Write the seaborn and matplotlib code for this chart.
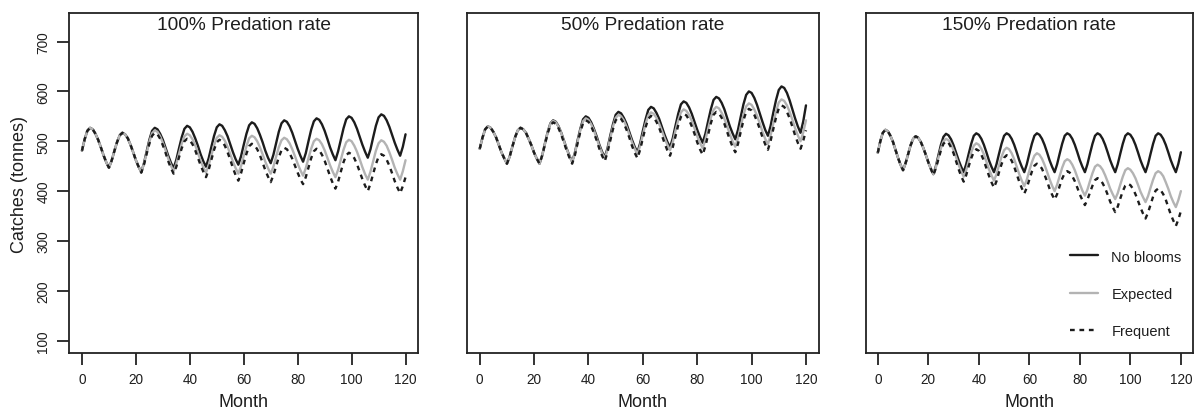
import pandas as pd
import matplotlib
matplotlib.use("Agg")
import matplotlib.pyplot as plt
import seaborn as sns

# Meses simulados (0..120) y escenarios
MONTHS = list(range(121))
SCENARIOS = ["No blooms", "Expected", "Frequent"]
PANEL_TITLES = ["100% Predation rate", "50% Predation rate", "150% Predation rate"]

# 100% predation rate
PRED100_NO_BLOOMS = [
    481, 504, 521, 527, 524, 515, 503, 488, 472, 458,
    447, 461, 480, 498, 512, 517, 514, 506, 493, 478,
    462, 449, 438, 456, 480, 503, 521, 527, 524, 515,
    503, 487, 471, 457, 446, 463, 486, 508, 525, 531,
    528, 519, 506, 491, 474, 460, 449, 466, 489, 511,
    528, 534, 531, 522, 510, 494, 478, 464, 453, 470,
    493, 515, 532, 538, 535, 526, 513, 498, 481, 467,
    456, 473, 496, 519, 536, 542, 539, 530, 517, 501,
    485, 471, 459, 476, 500, 523, 540, 546, 543, 534,
    521, 505, 488, 474, 462, 480, 503, 526, 544, 550,
    547, 538, 525, 509, 493, 479, 467, 484, 508, 531,
    548, 554, 551, 542, 529, 513, 497, 483, 471, 489,
    514,
]
PRED100_EXPECTED = [
    481, 504, 521, 527, 524, 515, 503, 488, 472, 458,
    447, 461, 480, 498, 512, 517, 514, 506, 493, 478,
    462, 449, 438, 455, 477, 499, 516, 522, 519, 510,
    497, 482, 465, 451, 440, 455, 475, 495, 510, 515,
    512, 504, 492, 477, 461, 448, 437, 452, 472, 492,
    507, 512, 509, 501, 489, 474, 459, 446, 435, 450,
    471, 490, 506, 511, 508, 500, 488, 474, 459, 446,
    435, 449, 469, 488, 502, 507, 504, 496, 484, 470,
    455, 442, 431, 446, 466, 485, 500, 505, 502, 494,
    482, 467, 452, 439, 428, 443, 463, 483, 498, 503,
    500, 491, 479, 464, 448, 434, 423, 439, 460, 481,
    496, 502, 499, 491, 478, 463, 447, 434, 423, 440,
    462,
]
PRED100_FREQUENT = [
    481, 504, 521, 527, 524, 515, 503, 488, 472, 458,
    447, 461, 480, 498, 512, 517, 514, 506, 493, 478,
    462, 449, 437, 453, 475, 495, 511, 517, 514, 505,
    492, 477, 460, 446, 435, 449, 468, 486, 500, 505,
    502, 494, 482, 467, 452, 439, 428, 443, 463, 483,
    498, 503, 500, 491, 478, 463, 446, 432, 421, 436,
    456, 475, 490, 495, 492, 484, 472, 457, 442, 429,
    418, 432, 450, 468, 482, 487, 484, 476, 465, 451,
    437, 424, 414, 428, 447, 466, 480, 485, 482, 473,
    461, 446, 430, 416, 405, 419, 439, 458, 472, 477,
    474, 466, 454, 439, 424, 411, 400, 415, 435, 454,
    469, 474, 471, 463, 451, 436, 420, 407, 396, 410,
    428,
]

# 50% predation rate
PRED50_NO_BLOOMS = [
    485, 507, 524, 530, 527, 519, 508, 493, 478, 466,
    455, 469, 489, 508, 522, 527, 524, 517, 505, 492,
    477, 465, 455, 472, 496, 519, 536, 542, 539, 530,
    517, 501, 485, 471, 459, 477, 502, 525, 544, 550,
    547, 538, 525, 510, 493, 479, 468, 486, 511, 534,
    553, 559, 556, 547, 535, 519, 503, 489, 478, 496,
    521, 544, 563, 569, 566, 557, 545, 529, 513, 499,
    488, 506, 531, 555, 574, 580, 577, 568, 555, 539,
    523, 509, 497, 515, 540, 564, 583, 589, 586, 577,
    564, 547, 530, 516, 504, 523, 549, 574, 593, 600,
    597, 587, 573, 556, 539, 523, 511, 531, 558, 583,
    603, 610, 607, 597, 582, 564, 546, 530, 517, 540,
    572,
]
PRED50_EXPECTED = [
    485, 507, 524, 530, 527, 519, 508, 493, 478, 466,
    455, 469, 489, 508, 522, 527, 524, 517, 505, 492,
    477, 465, 455, 472, 495, 518, 535, 541, 538, 529,
    516, 500, 484, 470, 458, 476, 499, 522, 540, 546,
    543, 534, 522, 506, 490, 476, 465, 483, 506, 529,
    547, 553, 550, 542, 529, 514, 498, 485, 474, 491,
    513, 535, 552, 558, 555, 547, 535, 521, 506, 493,
    482, 498, 521, 542, 558, 564, 561, 553, 541, 526,
    510, 497, 486, 503, 525, 547, 563, 569, 566, 557,
    545, 530, 514, 500, 489, 506, 530, 553, 570, 576,
    573, 564, 551, 536, 519, 505, 494, 512, 536, 560,
    578, 584, 581, 572, 559, 543, 526, 512, 500, 518,
    542,
]
PRED50_FREQUENT = [
    485, 507, 524, 530, 527, 519, 508, 493, 478, 466,
    455, 469, 489, 508, 522, 527, 524, 517, 505, 492,
    477, 465, 455, 472, 494, 516, 532, 538, 535, 526,
    513, 497, 481, 467, 455, 472, 496, 519, 536, 542,
    539, 530, 517, 502, 485, 471, 460, 478, 501, 524,
    542, 548, 545, 536, 523, 508, 491, 477, 466, 483,
    506, 528, 545, 551, 548, 539, 527, 512, 496, 482,
    471, 488, 510, 532, 549, 555, 552, 543, 530, 515,
    498, 484, 473, 490, 513, 536, 553, 559, 556, 547,
    535, 519, 503, 489, 478, 495, 519, 542, 559, 565,
    562, 553, 540, 525, 508, 494, 483, 501, 525, 548,
    566, 572, 569, 559, 546, 529, 512, 497, 485, 501,
    522,
]

# 150% predation rate
PRED150_NO_BLOOMS = [
    477, 500, 517, 523, 520, 511, 499, 483, 467, 453,
    442, 456, 474, 492, 505, 510, 507, 499, 487, 473,
    458, 445, 434, 450, 472, 493, 509, 515, 512, 504,
    492, 477, 462, 449, 438, 454, 475, 495, 511, 516,
    513, 505, 493, 478, 462, 449, 438, 454, 475, 495,
    511, 516, 513, 505, 493, 478, 462, 449, 438, 454,
    475, 495, 511, 516, 513, 505, 493, 478, 462, 449,
    438, 454, 475, 495, 511, 516, 513, 505, 493, 478,
    462, 449, 438, 454, 475, 495, 511, 516, 513, 505,
    493, 478, 462, 449, 438, 454, 475, 495, 511, 516,
    513, 505, 493, 478, 462, 449, 438, 454, 475, 495,
    511, 516, 513, 505, 493, 478, 462, 449, 438, 455,
    478,
]
PRED150_EXPECTED = [
    477, 500, 517, 523, 520, 511, 499, 483, 467, 453,
    442, 456, 474, 492, 505, 510, 507, 499, 487, 473,
    458, 445, 434, 448, 467, 486, 500, 505, 502, 494,
    482, 468, 453, 440, 429, 442, 460, 478, 491, 496,
    493, 485, 474, 459, 444, 432, 421, 434, 452, 469,
    482, 487, 484, 476, 464, 449, 434, 421, 410, 423,
    441, 458, 471, 476, 473, 465, 453, 439, 424, 411,
    400, 413, 430, 447, 460, 464, 461, 453, 442, 428,
    414, 401, 391, 403, 420, 436, 449, 453, 450, 443,
    432, 419, 405, 394, 384, 396, 413, 429, 442, 446,
    443, 436, 426, 413, 399, 388, 378, 390, 407, 423,
    436, 440, 437, 430, 418, 405, 390, 378, 368, 382,
    400,
]
PRED150_FREQUENT = [
    477, 500, 517, 523, 520, 511, 499, 483, 467, 453,
    442, 456, 474, 492, 505, 510, 507, 499, 487, 473,
    458, 445, 432, 446, 464, 482, 495, 500, 497, 488,
    476, 460, 444, 430, 419, 432, 450, 466, 479, 484,
    481, 473, 461, 446, 431, 418, 407, 420, 438, 454,
    467, 472, 469, 461, 449, 434, 419, 406, 395, 407,
    423, 439, 451, 455, 452, 445, 433, 420, 405, 393,
    383, 394, 410, 425, 436, 440, 437, 430, 420, 407,
    393, 382, 372, 383, 397, 411, 422, 426, 423, 416,
    406, 393, 379, 368, 358, 369, 385, 400, 411, 415,
    412, 405, 394, 381, 367, 355, 345, 357, 373, 389,
    401, 405, 402, 394, 383, 368, 353, 341, 330, 343,
    360,
]

PANEL_SERIES = [
    [PRED100_NO_BLOOMS, PRED100_EXPECTED, PRED100_FREQUENT],
    [PRED50_NO_BLOOMS, PRED50_EXPECTED, PRED50_FREQUENT],
    [PRED150_NO_BLOOMS, PRED150_EXPECTED, PRED150_FREQUENT],
]

# Estilo
PALETTE = {"No blooms": "#1c1c1c", "Expected": "#b3b3b3", "Frequent": "#1c1c1c"}
DASHES = {"No blooms": "", "Expected": "", "Frequent": (2, 2)}
TEXT_COLOR = "#1e1e1e"

sns.set_style("ticks")
plt.rcParams["font.family"] = ["Liberation Sans", "DejaVu Sans"]
plt.rcParams["text.color"] = TEXT_COLOR
plt.rcParams["axes.labelcolor"] = TEXT_COLOR
plt.rcParams["xtick.color"] = TEXT_COLOR
plt.rcParams["ytick.color"] = TEXT_COLOR

fig = plt.figure(figsize=(11.96, 4.14), dpi=100)
posiciones = [
    [0.0577, 0.1442, 0.2922, 0.822],
    [0.3902, 0.1442, 0.2946, 0.822],
    [0.7238, 0.1442, 0.2737, 0.822],
]

for i, (titulo, series) in enumerate(zip(PANEL_TITLES, PANEL_SERIES)):
    ax = fig.add_axes(posiciones[i])
    df = pd.concat(
        [pd.DataFrame({"Month": MONTHS, "Catches": vals, "Scenario": esc})
         for esc, vals in zip(SCENARIOS, series)],
        ignore_index=True,
    )
    sns.lineplot(
        data=df, x="Month", y="Catches", hue="Scenario", style="Scenario",
        hue_order=SCENARIOS, style_order=SCENARIOS,
        palette=PALETTE, dashes=DASHES, linewidth=1.7,
        legend=(i == 2), ax=ax,
    )

    ax.set_xlim(-4.8, 124.8)
    ax.set_ylim(74.7, 757.3)
    ax.set_xticks(range(0, 121, 20))
    ax.set_xlabel("Month", fontsize=13, labelpad=5)
    for sp in ax.spines.values():
        sp.set_visible(True)
        sp.set_linewidth(1.3)
        sp.set_color("#222222")
    ax.tick_params(axis="both", direction="out", length=8.5, width=1.3,
                   labelsize=9.8, pad=5, color="#222222")

    if i == 0:
        ax.set_yticks(range(100, 701, 100))
        plt.setp(ax.get_yticklabels(), rotation=90, va="center", ha="right")
        ax.set_ylabel("Catches (tonnes)", fontsize=13, labelpad=6)
    else:
        ax.set_yticks([])
        ax.set_ylabel("")

    ax.text(0.5, 0.965, titulo, transform=ax.transAxes, ha="center",
            va="center", fontsize=13.8)

    if i == 2:
        handles, labels = ax.get_legend_handles_labels()
        ax.legend(handles, labels, loc="upper left", bbox_to_anchor=(0.624, 0.305),
                  frameon=False, fontsize=10.5, handlelength=1.95,
                  handletextpad=0.9, labelspacing=1.6, borderaxespad=0,
                  borderpad=0)

fig.savefig("out.png", dpi=100)
